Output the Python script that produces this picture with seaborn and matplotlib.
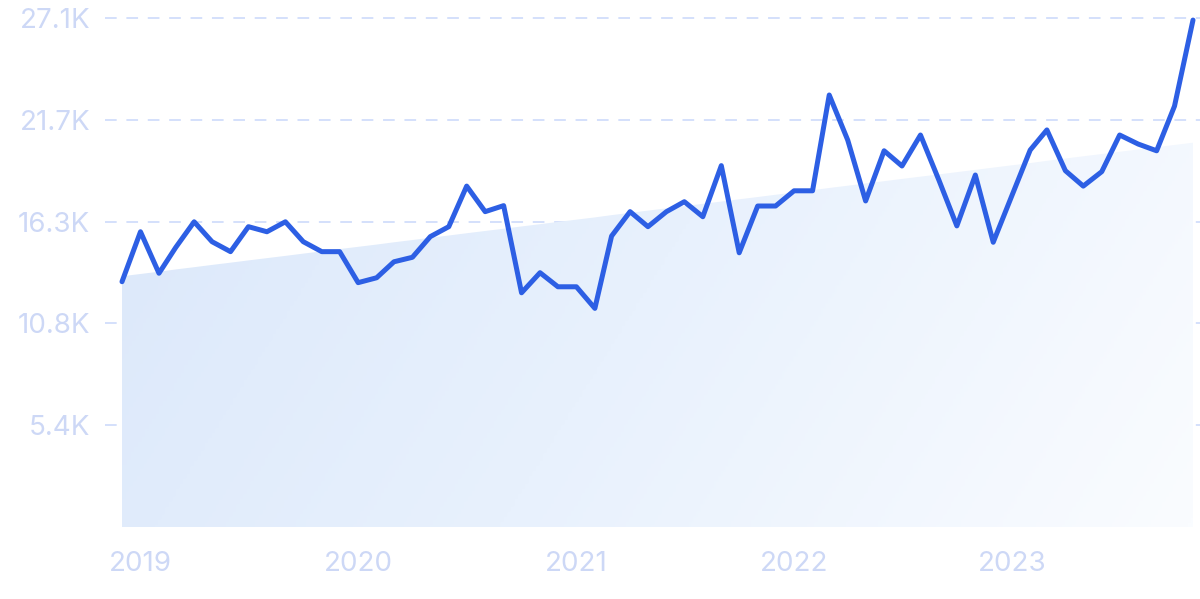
import numpy as np
import pandas as pd
import matplotlib
matplotlib.use("Agg")
import matplotlib.pyplot as plt
from matplotlib.colors import LinearSegmentedColormap
import seaborn as sns

# monthly values (thousands)
months = pd.date_range("2018-12-01", periods=60, freq="MS")
values = [13.06, 15.72, 13.51, 14.88, 16.25, 15.19, 14.66, 15.99, 15.72, 16.25,
          15.19, 14.66, 14.66, 13.01, 13.27, 14.12, 14.36, 15.46, 15.99, 18.15,
          16.79, 17.11, 12.47, 13.54, 12.79, 12.79, 11.64, 15.49, 16.79, 15.99,
          16.79, 17.32, 16.52, 19.24, 14.60, 17.09, 17.09, 17.90, 17.90, 23.00,
          20.60, 17.36, 20.03, 19.22, 20.87, 18.46, 16.03, 18.74, 15.16, 17.62,
          20.07, 21.14, 18.97, 18.15, 18.92, 20.87, 20.39, 20.03, 22.41, 26.99]
trend_start, trend_end = 13.35, 20.46
ytick_vals = [5.42, 10.84, 16.26, 21.68, 27.1]
ytick_labels = ["5.4K", "10.8K", "16.3K", "21.7K", "27.1K"]
year_ticks = pd.to_datetime(["2019-01-01", "2020-01-01", "2021-01-01", "2022-01-01", "2023-01-01"])
year_labels = ["2019", "2020", "2021", "2022", "2023"]

df = pd.DataFrame({"month": months, "value": values})

sns.set_style("white")
plt.rcParams["font.family"] = ["Inter", "DejaVu Sans"]

fig = plt.figure(figsize=(12, 5.99), dpi=100)
ax = fig.add_axes([122 / 1200, 72 / 599, 1071 / 1200, 509 / 599])

label_col = "#cdd8f6"
grid_col = "#d4e0fb"

# gradient area under the trend line
trend = np.linspace(trend_start, trend_end, len(months))
poly = ax.fill_between(months, 0, trend, color="none", lw=0)
gx, gy = np.meshgrid(np.linspace(0, 1, 300), np.linspace(0, 1, 200))
grad = 0.85 * gx + 0.25 * (1 - gy)
cmap = LinearSegmentedColormap.from_list("g", ["#dae7fa", "#e8f1fd", "#fafcff"])
im = ax.imshow(grad, cmap=cmap, extent=[0, 1, 0, 1], origin="lower",
               aspect="auto", transform=ax.transAxes, zorder=1, vmin=0, vmax=1.1)
im.set_clip_path(poly.get_paths()[0], transform=ax.transData)

# grid lines, a bit longer than the axes on the left
for yv in ytick_vals:
    ax.plot([-0.016, 1.01], [yv, yv], transform=ax.get_yaxis_transform(),
            color=grid_col, lw=1.4, ls=(0, (6, 5)), clip_on=False, zorder=0)

sns.lineplot(data=df, x="month", y="value", ax=ax, color="#2d5fe4",
             linewidth=3.6, zorder=3, clip_on=False)

ax.set_xlim(months[0], months[-1])
ax.set_ylim(0, 27.1)
ax.set_yticks(ytick_vals)
ax.set_yticklabels(ytick_labels)
ax.set_xticks(year_ticks)
ax.set_xticklabels(year_labels)
ax.tick_params(axis="y", length=0, pad=23, labelsize=20, colors=label_col)
ax.tick_params(axis="x", length=0, pad=17, labelsize=20, colors=label_col)
ax.set_xlabel("")
ax.set_ylabel("")
for s in ax.spines.values():
    s.set_visible(False)

fig.savefig("out.png", dpi=100)
